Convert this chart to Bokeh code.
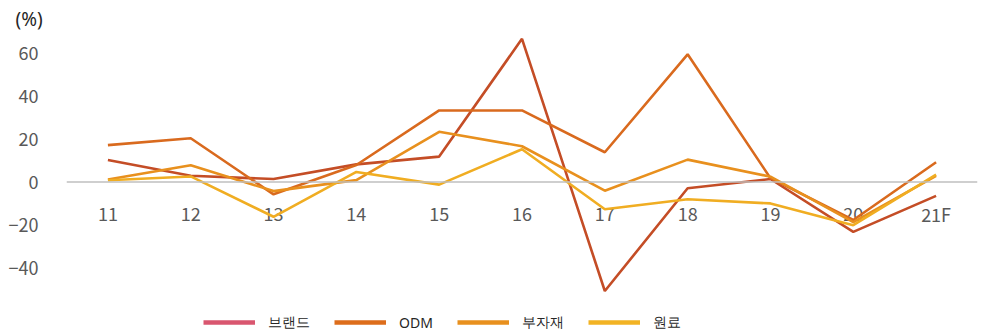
import math
from bokeh.plotting import figure
from bokeh.models import FixedTicker, Legend, LegendItem, Span
from bokeh.core.properties import value
from bokeh.embed import file_html
from bokeh.resources import INLINE

# ---- data ----
years = ["11", "12", "13", "14", "15", "16", "17", "18", "19", "20", "21F"]
brand = [10.2, 2.9, 1.4, 8.2, 11.8, 66.4, -50.5, -2.9, 1.4, -23.1, -6.4]
odm = [17.1, 20.3, -5.7, 7.9, 33.2, 33.2, 13.8, 59.2, 1.8, -17.6, 9.2]
bujajae = [1.2, 7.8, -4.2, 0.9, 23.3, 16.6, -4.0, 10.4, 2.5, -18.6, 2.9]
wonryo = [0.8, 2.6, -16.1, 4.7, -1.2, 15.2, -12.6, -8.0, -9.9, -20.0, 3.4]
series_names = ["브랜드", "ODM", "부자재", "원료"]
y_ticks = [-40, -20, 0, 20, 40, 60]

line_colors = ["#c44d26", "#d96a1e", "#e8901e", "#f0ad22"]
legend_colors = ["#d9566f", "#dd6d1b", "#e8901e", "#f2b324"]

FONT = "Noto Sans CJK KR"

p = figure(
    width=1000, height=336,
    x_range=years,
    y_range=(-71.6, 68.4),
    output_backend="svg", toolbar_location=None,
    title="(%)",
)
p.min_border_left = 66
p.min_border_right = 23
p.min_border_top = 32
p.min_border_bottom = 0
p.outline_line_color = None
p.xgrid.visible = False
p.ygrid.visible = False

p.title.text_font = "Noto Sans"
p.title.text_font_size = "19px"
p.title.text_font_style = "normal"
p.title.text_color = "#262626"
p.title.offset = -51
p.title.standoff = 6

# category axis: zero line + labels hanging just below it
p.xaxis.visible = False
p.add_layout(Span(location=0, dimension="width", line_color="#bfbfbf", line_width=1.5))
p.text(x=years, y=[0] * len(years), text=years, y_offset=32,
       text_align="center", text_baseline="middle",
       text_font=value(FONT), text_font_size="18px", text_color="#595959")

p.yaxis.ticker = FixedTicker(ticks=y_ticks)
p.yaxis.axis_line_color = None
p.yaxis.major_tick_line_color = None
p.yaxis.minor_tick_line_color = None
p.yaxis.major_label_standoff = 22
p.yaxis.major_label_text_font = FONT
p.yaxis.major_label_text_font_size = "18px"
p.yaxis.major_label_text_color = "#595959"

all_series = [brand, odm, bujajae, wonryo]
for vals, col in zip(all_series, line_colors):
    p.line(years, vals, line_color=col, line_width=2.6)

items = []
for name, col in zip(series_names, legend_colors):
    r = p.line(x=[years[0]], y=[math.nan], line_color=col, line_width=4.5)
    items.append(LegendItem(label=name, renderers=[r]))

legend = Legend(items=items, orientation="horizontal", location=(137, 4),
                glyph_width=52, glyph_height=20, label_standoff=13, spacing=24,
                padding=0, margin=0, border_line_color=None,
                background_fill_alpha=0,
                label_text_font="Noto Sans", label_text_font_size="14px",
                label_text_color="#262626")
p.add_layout(legend)

open("out.html", "w").write(file_html(p, INLINE))
